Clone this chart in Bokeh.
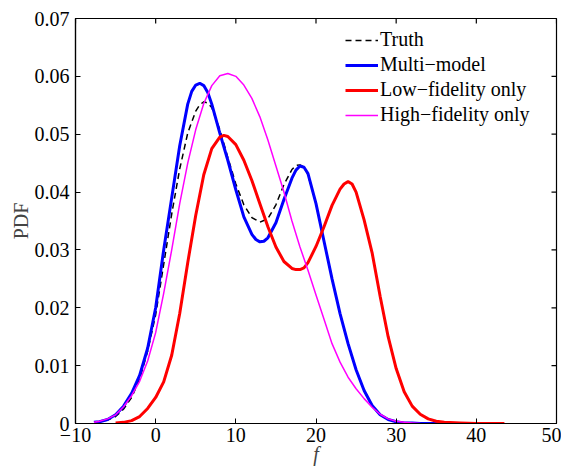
import math
from bokeh.plotting import figure
from bokeh.models import FixedTicker, Legend, LegendItem, Range1d
from bokeh.embed import file_html
from bokeh.resources import INLINE

# ---- data ----
truth_x = [-7.5, -7, -6, -5, -4, -3, -2, -1, 0, 1, 2, 3, 4, 5, 5.5, 6, 6.5, 7, 8, 9, 10, 11, 12, 13,
           14, 15, 16, 17, 17.5, 18, 18.5, 19, 20, 21, 22, 23, 24, 25, 26, 27, 28, 29, 30, 31, 32,
           33, 34, 35]
truth_y = [0.0002, 0.0003, 0.0006, 0.0012, 0.0025, 0.0045, 0.0077, 0.0125, 0.0188, 0.0275, 0.0362,
           0.0440, 0.0502, 0.0540, 0.0551, 0.0556, 0.0554, 0.0546, 0.0508, 0.0460, 0.0414, 0.0378,
           0.0356, 0.0348, 0.0354, 0.0378, 0.0413, 0.0439, 0.0446, 0.0447, 0.0443, 0.0430, 0.0380,
           0.0315, 0.0250, 0.0190, 0.0138, 0.0093, 0.0057, 0.0031, 0.0015, 0.0007, 0.0003, 0.0001,
           0.0001, 0.0, 0.0, 0.0]

multi_x = [-7.7, -7, -6, -5, -4, -3, -2, -1, 0, 1, 2, 3, 4, 4.5, 5, 5.5, 6, 6.5, 7, 8, 9, 10, 11,
           12, 12.5, 13, 13.5, 14, 15, 16, 17, 17.5, 18, 18.5, 19, 20, 21, 22, 23, 24, 25, 26, 27,
           28, 29, 30, 31, 32, 33, 34, 35, 36]
multi_y = [0.0002, 0.0003, 0.0007, 0.0015, 0.0030, 0.0052, 0.0083, 0.0130, 0.0200, 0.0300, 0.0390,
           0.0480, 0.0552, 0.0574, 0.0585, 0.0588, 0.0584, 0.0572, 0.0552, 0.0502, 0.0455, 0.0404,
           0.0357, 0.0327, 0.0318, 0.0314, 0.0315, 0.0321, 0.0347, 0.0387, 0.0424, 0.0438, 0.0445,
           0.0443, 0.0432, 0.0380, 0.0315, 0.0250, 0.0190, 0.0138, 0.0093, 0.0057, 0.0031, 0.0015,
           0.0007, 0.0003, 0.0001, 0.0001, 0.0, 0.0, 0.0, 0.0]

low_x = [-5, -4, -3, -2, -1, 0, 1, 2, 3, 4, 5, 6, 7, 8, 8.5, 9, 10, 11, 12, 13, 14, 15, 16, 17,
         17.5, 18, 18.5, 19, 20, 21, 22, 23, 23.5, 24, 24.5, 25, 26, 27, 28, 29, 30, 31, 32, 33,
         34, 35, 36, 38, 40, 43.5]
low_y = [0.0001, 0.0002, 0.0005, 0.0012, 0.0026, 0.0045, 0.0072, 0.0118, 0.0190, 0.0278, 0.0360,
         0.0430, 0.0475, 0.0495, 0.0498, 0.0496, 0.0482, 0.0455, 0.0420, 0.0380, 0.0340, 0.0305,
         0.0280, 0.0268, 0.0266, 0.0266, 0.0269, 0.0278, 0.0306, 0.0340, 0.0377, 0.0405, 0.0414,
         0.0418, 0.0414, 0.0400, 0.0352, 0.0295, 0.0220, 0.0150, 0.0095, 0.0055, 0.0030, 0.0016,
         0.0008, 0.0004, 0.0002, 0.0001, 0.0, 0.0]

high_x = [-7.7, -7, -6, -5, -4, -3, -2, -1, 0, 1, 2, 3, 4, 5, 6, 7, 8, 9, 10, 11, 12, 13, 14, 15,
          16, 17, 18, 19, 20, 21, 22, 23, 24, 25, 26, 27, 28, 29, 30, 31, 32, 33]
high_y = [0.0002, 0.0004, 0.0008, 0.0015, 0.0029, 0.0048, 0.0073, 0.0108, 0.0157, 0.0225, 0.0300,
          0.0380, 0.0450, 0.0508, 0.0553, 0.0584, 0.0601, 0.0605, 0.0600, 0.0585, 0.0562, 0.0530,
          0.0490, 0.0445, 0.0400, 0.0350, 0.0305, 0.0265, 0.0222, 0.0180, 0.0138, 0.0106, 0.0080,
          0.0060, 0.0043, 0.0028, 0.0016, 0.0008, 0.0004, 0.0002, 0.0001, 0.0]

x_ticks = [-10, 0, 10, 20, 30, 40, 50]
x_labels = ["\u221210", "0", "10", "20", "30", "40", "50"]
y_ticks = [0, 0.01, 0.02, 0.03, 0.04, 0.05, 0.06, 0.07]
y_labels = ["0", "0.01", "0.02", "0.03", "0.04", "0.05", "0.06", "0.07"]

legend_labels = ["Truth", "Multi\u2212model", "Low\u2212fidelity only", "High\u2212fidelity only"]

FONT = "Liberation Serif"
FS = "20px"

p = figure(frame_width=481, frame_height=405, output_backend="svg", toolbar_location=None,
           x_range=Range1d(x_ticks[0], x_ticks[-1]), y_range=Range1d(y_ticks[0], y_ticks[-1]),
           min_border_left=75, min_border_right=5, min_border_top=18, min_border_bottom=44)
p.background_fill_color = "white"
p.border_fill_color = "white"
p.outline_line_color = "black"
p.outline_line_width = 1.2
p.grid.visible = False

def style_axis(ax):
    ax.minor_tick_line_color = None
    ax.major_tick_in = 5
    ax.major_tick_out = 0
    ax.axis_line_color = "black"
    ax.axis_line_width = 1.2
    ax.major_tick_line_color = "black"
    ax.major_label_text_font = FONT
    ax.major_label_text_color = "black"
    ax.major_label_text_font_size = FS

xa = p.xaxis[0]
xa.ticker = FixedTicker(ticks=x_ticks)
xa.major_label_overrides = dict(zip(x_ticks, x_labels))
style_axis(xa)
xa.major_label_standoff = 4
xa.axis_label = "f"
xa.axis_label_text_font = FONT
xa.axis_label_text_font_style = "italic"
xa.axis_label_text_font_size = FS
xa.axis_label_standoff = -2

ya = p.yaxis[0]
ya.ticker = FixedTicker(ticks=y_ticks)
ya.major_label_overrides = dict(zip(y_ticks, y_labels))
style_axis(ya)
ya.major_label_standoff = 6
ya.axis_label = "PDF"
ya.axis_label_text_font = FONT
ya.axis_label_text_font_style = "normal"
ya.axis_label_text_font_size = FS
ya.axis_label_standoff = 0

# inward ticks on the top and right edges of the box (half of each dash is clipped by the frame)
p.scatter(x=x_ticks, y=[y_ticks[-1]] * len(x_ticks), marker="dash", angle=math.pi / 2,
          size=10, line_color="black", line_width=1.2)
p.scatter(x=[x_ticks[-1]] * len(y_ticks), y=y_ticks, marker="dash",
          size=10, line_color="black", line_width=1.2)

r_truth = p.line(truth_x, truth_y, line_color="black", line_width=1.5, line_dash="6 4")
r_multi = p.line(multi_x, multi_y, line_color="#0000FF", line_width=3)
r_low = p.line(low_x, low_y, line_color="#FF0000", line_width=3)
r_high = p.line(high_x, high_y, line_color="#FF00FF", line_width=1.5)

legend = Legend(items=[LegendItem(label=legend_labels[0], renderers=[r_truth]),
                       LegendItem(label=legend_labels[1], renderers=[r_multi]),
                       LegendItem(label=legend_labels[2], renderers=[r_low]),
                       LegendItem(label=legend_labels[3], renderers=[r_high])],
                location=(270, 297))
legend.border_line_alpha = 0
legend.background_fill_alpha = 0
legend.padding = 0
legend.margin = 0
legend.spacing = 2
legend.glyph_width = 33
legend.glyph_height = 20
legend.label_height = 20
legend.label_standoff = 2
legend.label_text_font = FONT
legend.label_text_font_size = FS
legend.label_text_color = "black"
p.add_layout(legend, "center")

open("out.html", "w").write(file_html(p, INLINE))
